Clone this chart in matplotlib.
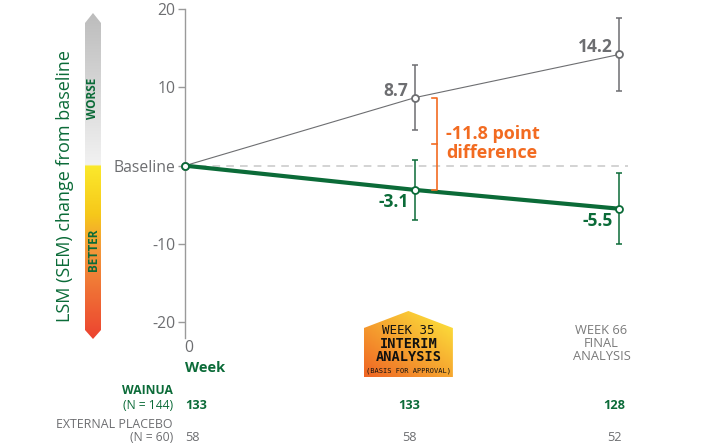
import numpy as np
import matplotlib
matplotlib.use("Agg")
import matplotlib.pyplot as plt
from matplotlib.path import Path
from matplotlib.patches import PathPatch

# ---------------- data ----------------
weeks = [0, 35, 66]
wainua_lsm = [0.0, -3.1, -5.5]
wainua_sem = [0.0, 3.8, 4.5]
placebo_lsm = [0.0, 8.7, 14.2]
placebo_sem = [0.0, 4.1, 4.7]
difference_label = "-11.8 point\ndifference"
ytick_values = [20, 10, 0, -10, -20]
ytick_labels = ["20", "10", "Baseline", "-10", "-20"]
wainua_n = ["133", "133", "128"]
placebo_n = ["58", "58", "52"]

GREEN = "#0b6b38"
GRAY = "#6d6e71"
ORANGE = "#f26b21"

plt.rcParams["font.family"] = ["Open Sans", "DejaVu Sans"]

W, H = 703, 444
fig = plt.figure(figsize=(W / 100, H / 100), dpi=100)

# overlay axes in pixel coordinates (y down) for decorations
ov = fig.add_axes([0, 0, 1, 1], zorder=0)
ov.set_xlim(0, W)
ov.set_ylim(H, 0)
ov.axis("off")

# main axes
left_px, right_px, top_px, bot_px = 185, 628, 9, 338
ax = fig.add_axes([left_px / W, 1 - bot_px / H, (right_px - left_px) / W, (bot_px - top_px) / H], zorder=2)
ax.set_facecolor("none")
ax.set_xlim(0, 67.3)
ax.set_ylim(-22, 20)

for s in ["top", "right", "bottom"]:
    ax.spines[s].set_visible(False)
ax.spines["left"].set_color("#9a9a9a")
ax.spines["left"].set_linewidth(1.0)
ax.set_xticks([])
ax.set_yticks(ytick_values)
ax.set_yticklabels(ytick_labels)
ax.tick_params(axis="y", colors="#9a9a9a", labelcolor=GRAY, length=5, width=1.0, labelsize=11.3, pad=2)

# baseline dashed
ax.axhline(0, color="#c8c8c8", lw=1.1, ls=(0, (5, 4)), zorder=1)

# placebo
ax.errorbar(weeks[1:], placebo_lsm[1:], yerr=placebo_sem[1:], fmt="none", ecolor=GRAY, elinewidth=1.1, capsize=2.2, capthick=1.1, zorder=3)
ax.plot(weeks, placebo_lsm, color=GRAY, lw=0.8, marker="o", ms=5, mfc="white", mec=GRAY, mew=1.3, zorder=4, clip_on=False)
# wainua
ax.errorbar(weeks[1:], wainua_lsm[1:], yerr=wainua_sem[1:], fmt="none", ecolor=GREEN, elinewidth=1.1, capsize=2.2, capthick=1.1, zorder=3)
ax.plot(weeks, wainua_lsm, color=GREEN, lw=3.0, marker="o", ms=5, mfc="white", mec=GREEN, mew=1.3, zorder=5, clip_on=False)

# value labels
for x, y in zip(weeks[1:], placebo_lsm[1:]):
    ax.annotate(f"{y:.1f}", (x, y), xytext=(-5, 5), textcoords="offset points", ha="right", va="center",
                fontsize=12.5, fontweight="bold", color=GRAY, zorder=6)
for x, y in zip(weeks[1:], wainua_lsm[1:]):
    ax.annotate(f"{y:.1f}", (x, y), xytext=(-5, -9), textcoords="offset points", ha="right", va="center",
                fontsize=12.5, fontweight="bold", color=GREEN, zorder=6)

# difference bracket
xv = ax.transData.transform((weeks[1], 0))[0]
def px_x(p):
    return ax.transData.inverted().transform((p, 0))[0]
y_top, y_bot = placebo_lsm[1], wainua_lsm[1]
xb = px_x(xv + 22)
xe = px_x(xv + 17)
ax.plot([xe, xb, xb, xe], [y_top, y_top, y_bot, y_bot], color=ORANGE, lw=1.2, zorder=6, clip_on=False)
ym = (y_top + y_bot) / 2
ax.plot([xe, xb], [ym, ym], color=ORANGE, lw=1.2, zorder=6)
ax.text(px_x(xv + 31), ym, difference_label, ha="left", va="center", fontsize=13, fontweight="bold",
        color=ORANGE, linespacing=1.1, zorder=6)

# y-axis label
fig.text(65 / W, 1 - 186 / H, "LSM (SEM) change from baseline", rotation=90, ha="center", va="center",
         fontsize=13, color=GREEN)

# ---------- gradient bar ----------
def lerp_colors(stops, n):
    pos = np.array([s[0] for s in stops])
    cols = np.array([matplotlib.colors.to_rgb(s[1]) for s in stops])
    t = np.linspace(0, 1, n)
    out = np.zeros((n, 3))
    for c in range(3):
        out[:, c] = np.interp(t, pos, cols[:, c])
    return out

bx0, bx1, btop, bsh_top, bsh_bot, bbot = 85, 101, 13, 23, 330, 339
split = (166 - btop) / (bbot - btop)
stops = [(0.0, "#bcbcbc"), (split - 0.001, "#f2f2f2"), (split, "#fbe92c"), (split + 0.15, "#f6c81a"),
         (0.72, "#f39a3a"), (1.0, "#ec4330")]
grad = lerp_colors(stops, 400)[:, None, :]
img = ov.imshow(grad, extent=[bx0, bx1, bbot, btop], aspect="auto", zorder=1, interpolation="bilinear")
bar_path = Path([(bx0, bsh_top), ((bx0 + bx1) / 2, btop), (bx1, bsh_top), (bx1, bsh_bot),
                 ((bx0 + bx1) / 2, bbot), (bx0, bsh_bot), (bx0, bsh_top)])
bar_patch = PathPatch(bar_path, facecolor="none", edgecolor="none")
ov.add_patch(bar_patch)
img.set_clip_path(bar_patch)
ov.text(93, 98, "WORSE", rotation=90, ha="center", va="center", fontsize=8.5, fontweight="bold", color=GREEN)
ov.text(93, 250, "BETTER", rotation=90, ha="center", va="center", fontsize=8.5, fontweight="bold", color=GREEN)

# ---------- x labels ----------
x0 = ax.transData.transform((weeks[0], 0))[0]
x35 = ax.transData.transform((weeks[1], 0))[0]
x66 = ax.transData.transform((weeks[2], 0))[0]

ov.text(x0 + 4, 348, "0", ha="center", va="center", fontsize=11.3, color=GRAY)
ov.text(x0, 368, "Week", ha="left", va="center", fontsize=10.5, fontweight="bold", color=GREEN)

# badge
cx = x35 - 7
hw = 44.5
b_peak, b_sh, b_bot = 311, 328, 377
badge_path = Path([(cx - hw, b_sh), (cx, b_peak), (cx + hw, b_sh), (cx + hw, b_bot), (cx - hw, b_bot), (cx - hw, b_sh)])
c_or = np.array(matplotlib.colors.to_rgb("#ef6424"))
c_ye = np.array(matplotlib.colors.to_rgb("#fdea3c"))
ty = np.linspace(0, 1, 100)[:, None]  # 0 top
tx = np.linspace(0, 1, 100)[None, :]
w = np.clip((tx + (1 - ty)) / 2, 0, 1)  # 1 -> top right
arr = c_or[None, None, :] * (1 - w[..., None]) + c_ye[None, None, :] * w[..., None]
bimg = ov.imshow(arr, extent=[cx - hw, cx + hw, b_bot, b_peak], aspect="auto", zorder=1, interpolation="bilinear")
bpatch = PathPatch(badge_path, facecolor="none", edgecolor="none")
ov.add_patch(bpatch)
bimg.set_clip_path(bpatch)
mono = ["DejaVu Sans Mono"]
ov.text(cx, 330, "WEEK 35", ha="center", va="center", fontsize=9, color="#111111", family=mono)
ov.text(cx, 343.5, "INTERIM", ha="center", va="center", fontsize=9.8, fontweight="bold", color="#111111", family=mono)
ov.text(cx, 357, "ANALYSIS", ha="center", va="center", fontsize=9.8, fontweight="bold", color="#111111", family=mono)
ov.text(cx, 371, "(BASIS FOR APPROVAL)", ha="center", va="center", fontsize=5.0, color="#111111", family=mono)

cx66 = x66 - 18
ov.text(cx66, 330, "WEEK 66", ha="center", va="center", fontsize=9.3, color="#7a7a7a")
ov.text(cx66, 343, "FINAL", ha="center", va="center", fontsize=9.3, color="#7a7a7a")
ov.text(cx66, 356, "ANALYSIS", ha="center", va="center", fontsize=9.3, color="#7a7a7a")

# ---------- N table ----------
ov.text(173, 390, "WAINUA", ha="right", va="center", fontsize=8.7, fontweight="bold", color=GREEN)
ov.text(173, 405, "(N = 144)", ha="right", va="center", fontsize=8.7, color=GREEN)
ov.text(173, 424, "EXTERNAL PLACEBO", ha="right", va="center", fontsize=8.9, color=GRAY)
ov.text(173, 437.5, "(N = 60)", ha="right", va="center", fontsize=8.7, color=GRAY)

xs_n = [x0, x35 - 6, x66 - 5]
has = ["left", "center", "center"]
for xp, ha, wn, pn in zip(xs_n, has, wainua_n, placebo_n):
    ov.text(xp, 405, wn, ha=ha, va="center", fontsize=9.2, fontweight="bold", color=GREEN)
    ov.text(xp, 437.5, pn, ha=ha, va="center", fontsize=9.2, color=GRAY)

fig.savefig("out.png", dpi=100)
